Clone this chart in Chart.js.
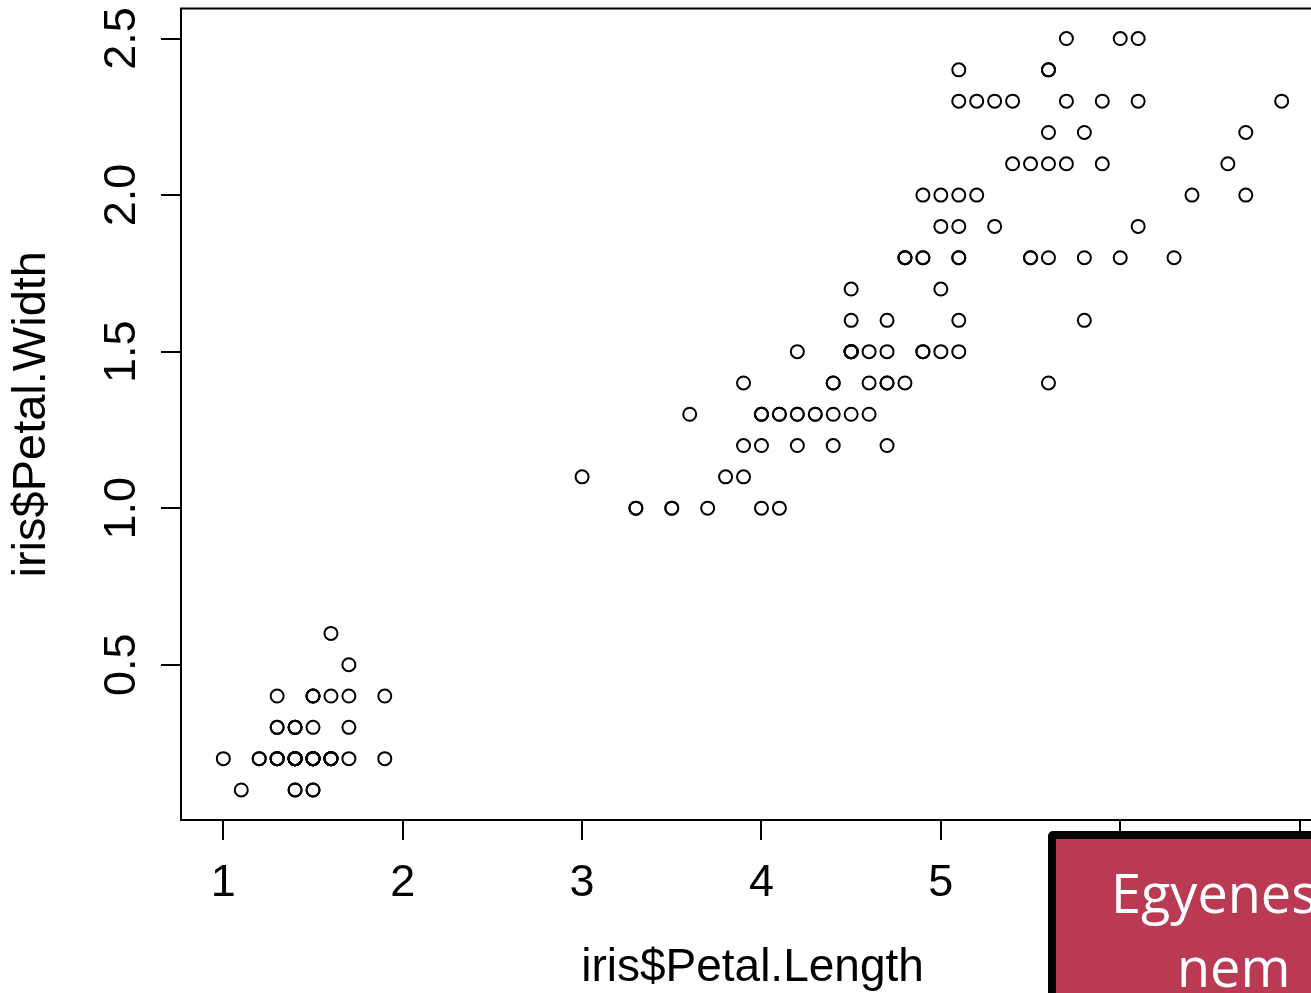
<!DOCTYPE html>
<html>
<head>
<meta charset="utf-8">
<script src="https://cdn.jsdelivr.net/npm/chart.js@4.4.1/dist/chart.umd.min.js"></script>
<style>
  html, body { margin: 0; padding: 0; background: #fff; overflow: hidden; }
  #wrap { position: relative; width: 1311px; height: 993px; overflow: hidden; }
  #plot { position: absolute; left: 0; top: 0; }
  .note { position: absolute; left: 1048px; top: 831px; width: 400px; height: 300px;
          border: 8px solid #000; border-radius: 5px; background: #ba3a53; box-sizing: border-box; }
  .note span { position: absolute; color: #fff; font-family: "Open Sans", Lato, sans-serif;
               font-size: 54px; line-height: 1; white-space: nowrap; }
</style>
</head>
<body>
<div id="wrap">
  <canvas id="plot" width="1340" height="993"></canvas>
  <div class="note">
    <span style="left:55px; top:26px;">Egyenes</span>
    <span style="left:121px; top:100px;">nem</span>
  </div>
</div>
<script>
// iris: Petal.Length / Petal.Width (150 flowers, in dataset order)
const petalLength = [
  1.4, 1.4, 1.3, 1.5, 1.4, 1.7, 1.4, 1.5, 1.4, 1.5, 1.5, 1.6, 1.4, 1.1, 1.2, 1.5, 1.3, 1.4, 1.7, 1.5,
  1.7, 1.5, 1.0, 1.7, 1.9, 1.6, 1.6, 1.5, 1.4, 1.6, 1.6, 1.5, 1.5, 1.4, 1.5, 1.2, 1.3, 1.4, 1.3, 1.5,
  1.3, 1.3, 1.3, 1.6, 1.9, 1.4, 1.6, 1.4, 1.5, 1.4,
  4.7, 4.5, 4.9, 4.0, 4.6, 4.5, 4.7, 3.3, 4.6, 3.9, 3.5, 4.2, 4.0, 4.7, 3.6, 4.4, 4.5, 4.1, 4.5, 3.9,
  4.8, 4.0, 4.9, 4.7, 4.3, 4.4, 4.8, 5.0, 4.5, 3.5, 3.8, 3.7, 3.9, 5.1, 4.5, 4.5, 4.7, 4.4, 4.1, 4.0,
  4.4, 4.6, 4.0, 3.3, 4.2, 4.2, 4.2, 4.3, 3.0, 4.1,
  6.0, 5.1, 5.9, 5.6, 5.8, 6.6, 4.5, 6.3, 5.8, 6.1, 5.1, 5.3, 5.5, 5.0, 5.1, 5.3, 5.5, 6.7, 6.9, 5.0,
  5.7, 4.9, 6.7, 4.9, 5.7, 6.0, 4.8, 4.9, 5.6, 5.8, 6.1, 6.4, 5.6, 5.1, 5.6, 6.1, 5.6, 5.5, 4.8, 5.4,
  5.6, 5.1, 5.9, 5.7, 5.2, 5.0, 5.2, 5.4, 5.1, 5.1
];
const petalWidth = [
  0.2, 0.2, 0.2, 0.2, 0.2, 0.4, 0.3, 0.2, 0.2, 0.1, 0.2, 0.2, 0.1, 0.1, 0.2, 0.4, 0.4, 0.3, 0.3, 0.3,
  0.2, 0.4, 0.2, 0.5, 0.2, 0.2, 0.4, 0.2, 0.2, 0.2, 0.2, 0.4, 0.1, 0.2, 0.2, 0.2, 0.2, 0.1, 0.2, 0.2,
  0.3, 0.3, 0.2, 0.6, 0.4, 0.3, 0.2, 0.2, 0.2, 0.2,
  1.4, 1.5, 1.5, 1.3, 1.5, 1.3, 1.6, 1.0, 1.3, 1.4, 1.0, 1.5, 1.0, 1.4, 1.3, 1.4, 1.5, 1.0, 1.5, 1.1,
  1.8, 1.3, 1.5, 1.2, 1.3, 1.4, 1.4, 1.7, 1.5, 1.0, 1.1, 1.0, 1.2, 1.6, 1.5, 1.6, 1.5, 1.3, 1.3, 1.3,
  1.2, 1.4, 1.2, 1.0, 1.3, 1.2, 1.3, 1.3, 1.1, 1.3,
  2.5, 1.9, 2.1, 1.8, 2.2, 2.1, 1.7, 1.8, 1.8, 2.5, 2.0, 1.9, 2.1, 2.0, 2.4, 2.3, 1.8, 2.2, 2.3, 1.5,
  2.3, 2.0, 2.0, 1.8, 2.1, 1.8, 1.8, 1.8, 2.1, 1.6, 1.9, 2.0, 2.2, 1.5, 1.4, 2.3, 2.4, 1.8, 1.8, 2.1,
  2.4, 2.3, 2.3, 2.5, 2.3, 1.9, 2.0, 2.3, 1.8, 1.8
];
const xTicks = [1, 2, 3, 4, 5, 6, 7];
const yTicks = [0.5, 1.0, 1.5, 2.0, 2.5];
const xTitle = 'iris$Petal.Length';
const yTitle = 'iris$Petal.Width';

const FONT = '"Liberation Sans", Arial, sans-serif';

// R-style box around the plot region + rotated y tick labels
const rFrame = {
  id: 'rFrame',
  afterDraw(chart) {
    const { ctx, chartArea, scales } = chart;
    ctx.save();
    ctx.strokeStyle = '#000';
    ctx.lineWidth = 2;
    ctx.strokeRect(chartArea.left, chartArea.top, chartArea.right - chartArea.left, chartArea.bottom - chartArea.top);
    ctx.fillStyle = '#000';
    ctx.font = '45px ' + FONT;
    ctx.textAlign = 'center';
    ctx.textBaseline = 'alphabetic';
    yTicks.forEach(v => {
      const py = scales.y.getPixelForValue(v);
      ctx.save();
      ctx.translate(chartArea.left - 46, py);
      ctx.rotate(-Math.PI / 2);
      ctx.fillText(v.toFixed(1), 0, 0);
      ctx.restore();
    });
    ctx.restore();
  }
};

const points = petalLength.map((v, i) => ({ x: v, y: petalWidth[i] }));

new Chart(document.getElementById('plot'), {
  type: 'scatter',
  data: {
    datasets: [{
      data: points,
      pointStyle: 'circle',
      pointRadius: 6.5,
      pointHoverRadius: 6.5,
      pointBorderWidth: 2,
      pointBorderColor: '#000',
      pointBackgroundColor: 'rgba(0,0,0,0)'
    }]
  },
  options: {
    responsive: false,
    animation: false,
    layout: { padding: { top: 8, right: 16, bottom: 0, left: 0 } },
    plugins: { legend: { display: false }, tooltip: { enabled: false } },
    scales: {
      x: {
        type: 'linear',
        min: 0.764,
        max: 7.136,
        afterBuildTicks: s => { s.ticks = xTicks.map(v => ({ value: v })); },
        afterFit: s => { s.height = 173; },
        border: { display: false },
        grid: { drawOnChartArea: false, drawTicks: true, tickLength: 20, color: '#000', lineWidth: 2 },
        ticks: {
          color: '#000', font: { family: FONT, size: 45 }, padding: 17,
          maxRotation: 0, autoSkip: false, callback: v => String(v)
        },
        title: {
          display: true, text: xTitle, color: '#000',
          font: { family: FONT, size: 46 }, padding: { top: 0, bottom: -3 }
        }
      },
      y: {
        type: 'linear',
        min: 0.004,
        max: 2.596,
        afterBuildTicks: s => { s.ticks = yTicks.map(v => ({ value: v })); },
        afterFit: s => { s.width = 181; },
        border: { display: false },
        grid: { drawOnChartArea: false, drawTicks: true, tickLength: 20, color: '#000', lineWidth: 2 },
        ticks: { display: false },
        title: {
          display: true, text: yTitle, color: '#000',
          font: { family: FONT, size: 47 }, padding: { top: 4, bottom: 0 }
        }
      }
    }
  },
  plugins: [rFrame]
});
</script>
</body>
</html>
